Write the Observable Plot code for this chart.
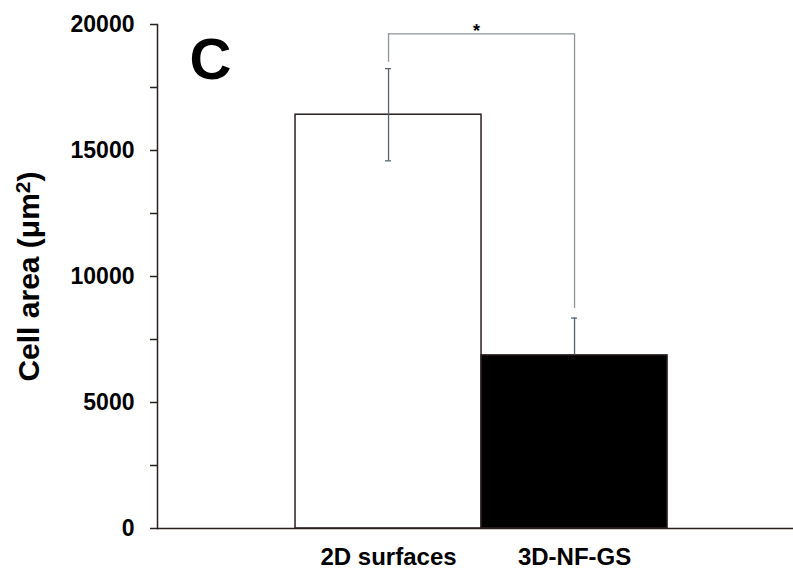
<!DOCTYPE html>
<html>
<head>
<meta charset="utf-8">
<script src="https://cdn.jsdelivr.net/npm/d3@7"></script>
<script src="https://cdn.jsdelivr.net/npm/@observablehq/plot@0.6"></script>
<style>
  html, body { margin: 0; padding: 0; background: #fff; }
  #chart { width: 793px; height: 571px; }
</style>
</head>
<body>
<div id="chart"></div>
<script>
// ---- data ----
const categories = ["2D surfaces", "3D-NF-GS"];
const means = [16420, 6870];
const sds = [1830, 1480];
const barFills = ["white", "black"];
const yTicks = [0, 5000, 10000, 15000, 20000];
const yMinorTicks = [2500, 7500, 12500, 17500];
const bracketTop = 19630;
const bracketLegBottoms = [18500, 8730];
const sigLabel = "*";
const panelLabel = "C";
const yLabelMain = "Cell area (\u03bcm";
const yLabelSup = "2";
const yLabelEnd = ")";
const yLabel = yLabelMain + "\u00b2" + yLabelEnd;

const bars = categories.map((c, i) => ({
  cat: c, pos: i + 1, mean: means[i], sd: sds[i], fill: barFills[i],
  legBottom: bracketLegBottoms[i]
}));

const font = "'Liberation Sans', Arial, Helvetica, sans-serif";
const axisColor = "#2a1f1f";
const errColor = "#55656b";
const bracketColor = "#8d9598";

const chart = Plot.plot({
  width: 793,
  height: 571,
  marginLeft: 157,
  marginRight: 0,
  marginTop: 24,
  marginBottom: 43,
  style: { fontFamily: font, fontWeight: "bold", color: "#000", background: "white" },
  x: { type: "linear", domain: [-0.242, 3.177] },
  y: { domain: [0, 20000] },
  marks: [
    Plot.rectY(bars, {
      x1: d => d.pos - 0.5, x2: d => d.pos + 0.5, y1: 0, y2: "mean",
      fill: "fill", stroke: axisColor, strokeWidth: 1.5
    }),
    Plot.ruleX(bars, { x: "pos", y1: "mean", y2: d => d.mean + d.sd, stroke: errColor, strokeWidth: 1.3 }),
    Plot.ruleX(bars.filter(d => d.fill === "white"), { x: "pos", y1: "mean", y2: d => d.mean - d.sd, stroke: errColor, strokeWidth: 1.3 }),
    Plot.ruleY(bars, { x1: "pos", x2: "pos", y: d => d.mean + d.sd, insetLeft: -3, insetRight: -3, stroke: errColor, strokeWidth: 1.3 }),
    Plot.ruleY(bars.filter(d => d.fill === "white"), { x1: "pos", x2: "pos", y: d => d.mean - d.sd, insetLeft: -3, insetRight: -3, stroke: errColor, strokeWidth: 1.3 }),
    Plot.ruleY([bracketTop], { x1: bars[0].pos, x2: bars[1].pos, stroke: bracketColor, strokeWidth: 1.3 }),
    Plot.ruleX(bars, { x: "pos", y1: "legBottom", y2: bracketTop, stroke: bracketColor, strokeWidth: 1.3 }),
    Plot.text([sigLabel], { x: (bars[0].pos + bars[1].pos) / 2, y: bracketTop, text: d => d, dx: -5, dy: 3, lineAnchor: "bottom", fontSize: 18, fontWeight: "bold", fill: "#000" }),
    Plot.ruleY([0], { stroke: axisColor, strokeWidth: 1.5 }),
    Plot.frame({ anchor: "left", stroke: axisColor, strokeWidth: 1.5 }),
    Plot.axisY({ ticks: yTicks, tickSize: 7, tickPadding: 16, tickFormat: d3.format("d"), fontSize: 23, fontWeight: "bold", label: null, stroke: axisColor, strokeWidth: 1.5 }),
    Plot.axisY({ ticks: yMinorTicks, tickSize: 7, tickFormat: () => "", label: null, stroke: axisColor, strokeWidth: 1.5 }),
    Plot.axisY({ ticks: [], label: yLabel, labelAnchor: "center", labelArrow: "none", labelOffset: 140, fontSize: 30, fontWeight: "bold" }),
    Plot.axisX({ ticks: bars.map(d => d.pos), tickFormat: p => categories[p - 1], tickSize: 0, tickPadding: 19, fontSize: 24, fontWeight: "bold", label: null }),
    Plot.text([panelLabel], { frameAnchor: "top-left", text: d => d, dx: 32, dy: 13, lineAnchor: "top", textAnchor: "start", fontSize: 58, fontWeight: "bold", fill: "#000" })
  ]
});

// render the squared unit as a real superscript
d3.select(chart).selectAll("text").filter(function () { return this.textContent === yLabel; }).each(function () {
  const t = d3.select(this);
  t.text(null);
  t.append("tspan").text(yLabelMain);
  t.append("tspan").attr("dy", "-0.4em").attr("font-size", "0.7em").text(yLabelSup);
  t.append("tspan").attr("dy", "0.28em").text(yLabelEnd);
});

document.getElementById("chart").appendChild(chart);
</script>
</body>
</html>
